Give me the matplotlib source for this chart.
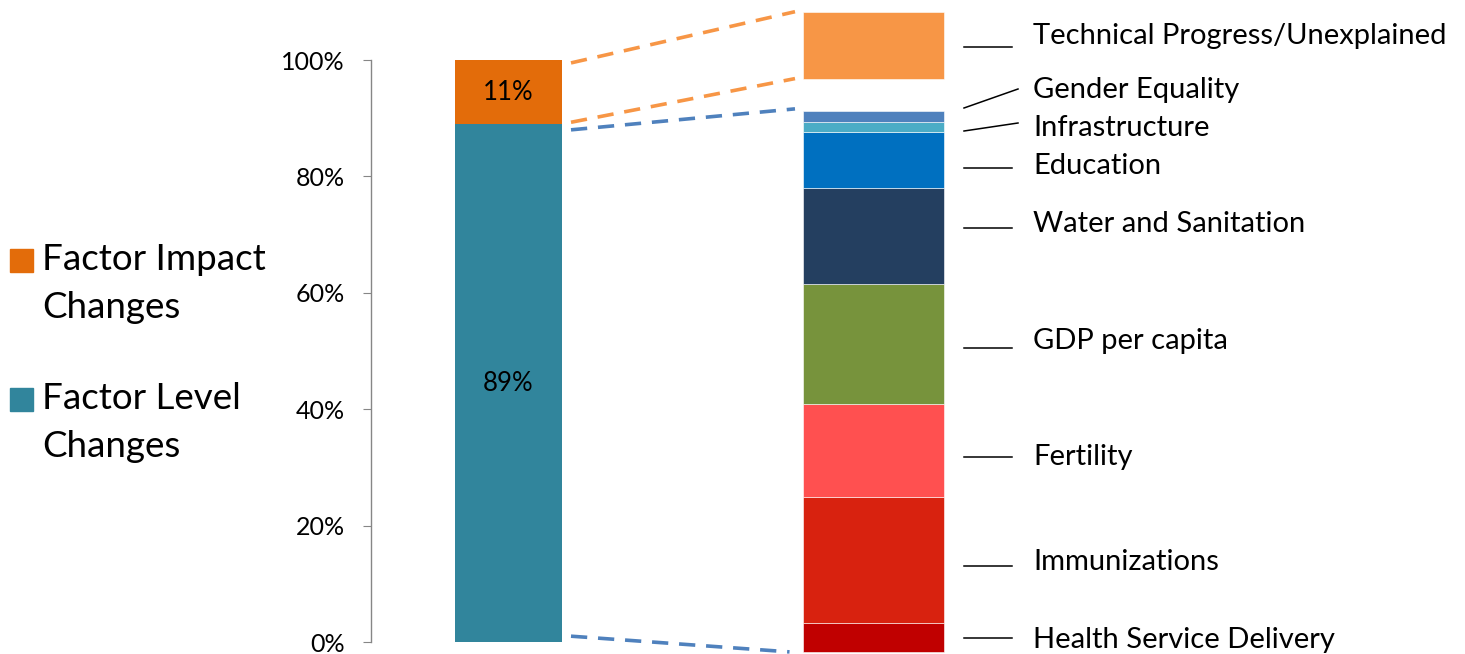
import matplotlib
matplotlib.use("Agg")
import matplotlib.pyplot as plt
from matplotlib.patches import Rectangle

plt.rcParams["font.family"] = ["Lato", "DejaVu Sans"]

# data
split_labels = ["Factor Level\nChanges", "Factor Impact\nChanges"]
split_values = [89, 11]
split_colors = ["#31859C", "#E36C0A"]

factor_names = [
    "Health Service Delivery",
    "Immunizations",
    "Fertility",
    "GDP per capita",
    "Water and Sanitation",
    "Education",
    "Infrastructure",
    "Gender Equality",
]
factor_values = [4.8, 20.7, 15.3, 19.7, 15.7, 9.2, 1.8, 1.8]
factor_colors = ["#C00000", "#D8220F", "#FF5050", "#77933C",
                 "#243F60", "#0070C0", "#4BACC6", "#4F81BD"]
unexplained_name = "Technical Progress/Unexplained"
unexplained_value = 11
unexplained_color = "#F79646"

# layout of the "zoomed" right bar
right_base = -1.7
right_scale = 1.045
right_gap = 5.5

W, H = 1465, 654
fig = plt.figure(figsize=(W / 100, H / 100), dpi=100)
ax_left_px, ax_bot_px, ax_top_px = 371, 642, 60
ax = fig.add_axes([ax_left_px / W, 1 - ax_bot_px / H, 1 - ax_left_px / W,
                   (ax_bot_px - ax_top_px) / H])
px_per_x = 365.0
x0 = (ax_left_px - 508.5) / px_per_x
ax.set_xlim(x0, x0 + (W - ax_left_px) / px_per_x)
ax.set_ylim(0, 100)


def px_y(py):
    return (ax_bot_px - py) / (ax_bot_px - ax_top_px) * 100


# left bar
bottom = 0
for v, c in zip(split_values, split_colors):
    ax.bar(0, v, width=107 / px_per_x, bottom=bottom, color=c, linewidth=0)
    ax.text(0, bottom + v / 2, f"{v}%", ha="center", va="center",
            fontsize=18.5, color="black")
    bottom += v

# right bar
rw = 141 / px_per_x
bottom = right_base
for v, c in zip(factor_values, factor_colors):
    h = v * right_scale
    ax.bar(1, h, width=rw, bottom=bottom, color=c, edgecolor="white",
           linewidth=0.4, clip_on=False)
    bottom += h
blue_top = bottom
un_bottom = blue_top + right_gap
un_h = unexplained_value * right_scale
ax.bar(1, un_h, width=rw, bottom=un_bottom, color=unexplained_color,
       edgecolor="white", linewidth=0.4, clip_on=False)

# connectors
lx = 0.0 + 107 / px_per_x / 2 + 9 / px_per_x
rx = 1 - rw / 2 - 8 / px_per_x
dash = dict(linestyle=(0, (4.5, 3)), linewidth=2.6, clip_on=False)
ax.plot([lx, rx], [100 - 0.5, un_bottom + un_h], color="#F79646", **dash)
ax.plot([lx, rx], [split_values[0] + 0.3, un_bottom], color="#F79646", **dash)
ax.plot([lx, rx], [split_values[0] - 1.0, blue_top + 0.3], color="#4F81BD", **dash)
ax.plot([lx, rx - 0.015], [1.0, right_base], color="#4F81BD", **dash)

# leader lines and labels
l0 = (964 - 508.5) / px_per_x
l1 = (1012 - 508.5) / px_per_x
tx = (1033 - 508.5) / px_per_x
label_ys = [px_y(640), px_y(562), px_y(457), px_y(341), px_y(224),
            px_y(166), px_y(128), px_y(90)]
line_ys = [px_y(638), px_y(566), px_y(457), px_y(348), px_y(228),
           px_y(168), px_y(131), px_y(108)]
line_ends = [px_y(638), px_y(566), px_y(457), px_y(348), px_y(228),
             px_y(168), px_y(123), px_y(89)]
for i, name in enumerate(factor_names):
    xe = l1 if line_ends[i] == line_ys[i] else (1018 - 508.5) / px_per_x
    ax.plot([l0, xe], [line_ys[i], line_ends[i]], color="black",
            linewidth=1.1, clip_on=False)
    ax.text(tx, label_ys[i], name, ha="left", va="center", fontsize=21,
            clip_on=False)
ax.plot([l0, l1], [px_y(47)] * 2, color="black", linewidth=1.1, clip_on=False)
ax.text(tx, px_y(36), unexplained_name, ha="left", va="center", fontsize=21,
        clip_on=False)

# axes styling
for s in ["top", "right", "bottom"]:
    ax.spines[s].set_visible(False)
ax.spines["left"].set_color("#868686")
ax.spines["left"].set_linewidth(1.0)
ax.set_xticks([])
ax.set_yticks(range(0, 101, 20))
ax.set_yticklabels([f"{t}%" for t in range(0, 101, 20)], fontsize=18)
ax.tick_params(axis="y", length=6, color="#868686", pad=13)

# legend drawn by hand
leg_items = [(split_labels[1], split_colors[1], 261),
             (split_labels[0], split_colors[0], 400)]
for text, c, py in leg_items:
    fig.patches.append(Rectangle((10 / W, 1 - (py + 11) / H), 23 / W, 23 / H,
                                 transform=fig.transFigure, color=c))
    fig.text(42 / W, 1 - (py - 18) / H, text, ha="left", va="top",
             fontsize=26.5, linespacing=1.55)

fig.savefig("out.png", dpi=100)
